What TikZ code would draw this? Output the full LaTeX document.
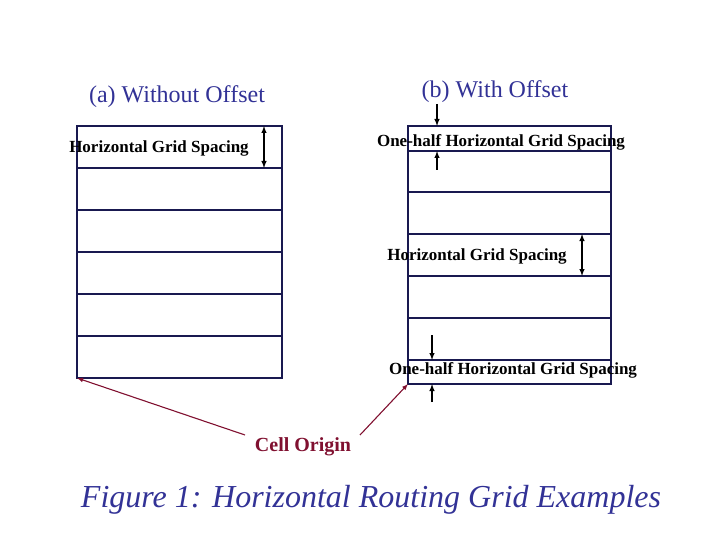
\documentclass[tikz,border=0pt]{standalone}
\usepackage{fontspec}
\setmainfont{Liberation Serif}
\definecolor{navy}{RGB}{25,25,80}
\definecolor{titleblue}{RGB}{50,50,150}
\definecolor{wine}{RGB}{128,16,48}
\begin{document}
\begin{tikzpicture}[x=1pt,y=-1pt,
  grid/.style={draw=navy,line width=2pt},
  lbl/.style={font=\fontsize{17}{19}\selectfont\bfseries,inner sep=0pt},
  dim/.style={line width=1.4pt,-latex},
  ddim/.style={line width=1.4pt,latex-latex},
  org/.style={draw=wine,line width=1.1pt,-latex}]
\useasboundingbox (0,0) rectangle (720,540);
% left grid
\foreach \y in {168,210,252,294,336} \draw[grid] (77,\y) -- (282,\y);
\draw[grid] (77,126) rectangle (282,378);
\coordinate (lo) at (77,378);
\node[lbl] (lh) at (159,148) {Horizontal Grid Spacing};
\coordinate (la) at (264,126); \coordinate (lb) at (264,168);
\draw[ddim] (la) -- (lb);
% right grid
\foreach \y in {151,192,234,276,318,360} \draw[grid] (408,\y) -- (611,\y);
\draw[grid] (408,126) rectangle (611,384);
\coordinate (ro) at (408,384);
\node[lbl] (rt) at (501,142) {One-half Horizontal Grid Spacing};
\node[lbl] (rm) at (477,256) {Horizontal Grid Spacing};
\node[lbl] (rb) at (513,370) {One-half Horizontal Grid Spacing};
\coordinate (t1) at (437,104); \coordinate (t2) at (437,126);
\coordinate (t3) at (437,170); \coordinate (t4) at (437,151);
\draw[dim] (t1) -- (t2); \draw[dim] (t3) -- (t4);
\coordinate (m1) at (582,234); \coordinate (m2) at (582,276);
\draw[ddim] (m1) -- (m2);
\coordinate (b1) at (432,335); \coordinate (b2) at (432,360);
\coordinate (b3) at (432,402); \coordinate (b4) at (432,384);
\draw[dim] (b1) -- (b2); \draw[dim] (b3) -- (b4);
% titles
\node[text=titleblue,font=\fontsize{24}{28}\selectfont] (ta) at (177,97) {(a) Without Offset};
\node[text=titleblue,font=\fontsize{24}{28}\selectfont] (tb) at (495,92) {(b) With Offset};
% cell origin
\node[text=wine,font=\fontsize{20}{24}\selectfont\bfseries] (co) at (303,447) {Cell Origin};
\coordinate (c1) at (245,435); \coordinate (c2) at (360,435);
\draw[org] (c1) -- (lo); \draw[org] (c2) -- (ro);
\node[text=titleblue,font=\fontsize{32}{38}\selectfont\itshape] (cap) at (371,500) {Figure 1: Horizontal Routing Grid Examples};
\end{tikzpicture}
\end{document}
